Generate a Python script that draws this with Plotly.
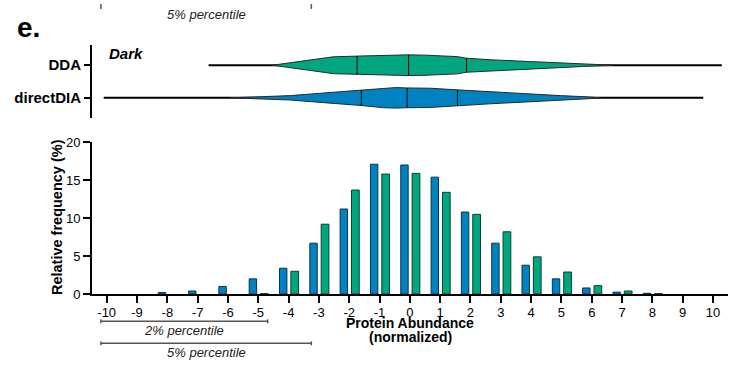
import numpy as np
import plotly.graph_objects as go

# ---- data -------------------------------------------------------------
abundance = list(range(-10, 11))
# relative frequency (%) per normalized abundance bin
freq_directdia = [0, 0, 0.2, 0.4, 1.0, 2.0, 3.4, 6.7, 11.2, 17.1, 17.0,
                  15.4, 10.8, 6.7, 3.8, 2.0, 0.8, 0.25, 0.1, 0, 0]
freq_dda = [0, 0, 0, 0, 0, 0.05, 3.0, 9.2, 13.7, 15.8, 15.9,
            13.4, 10.5, 8.2, 4.9, 2.9, 1.1, 0.4, 0.05, 0, 0]

# violin profiles (position, density)
dda_pos = [-4.54, -3.5, -2.52, -1.74, -1.0, -0.04, 0.5, 1.0, 1.56, 1.87,
           2.66, 3.98, 5.0, 5.73, 6.72]
dda_density = [0, 4.5, 8.8, 9.5, 10.2, 10.8, 10.5, 10.0, 9.0, 7.3,
               5.7, 3.8, 2.3, 1.3, 0]
dia_pos = [-5.92, -3.94, -2.85, -1.6, -0.87, -0.47, -0.09, 0.68, 1.57,
           2.66, 3.75, 4.97, 5.86, 6.3]
dia_density = [0, 2.3, 5.0, 8.0, 10.3, 10.7, 10.3, 10.0, 8.3,
               6.2, 4.3, 2.3, 1.0, 0]
# min, q1, median, q3, max
dda_stats = [-6.64, -1.74, -0.04, 1.87, 10.29]
dia_stats = [-10.1, -1.6, -0.09, 1.57, 9.68]

groups = ["directDIA", "DDA"]

# percentile brackets under the x axis
pct_labels = ["2% percentile", "5% percentile"]
pct_lo = [-10.19, -10.19]
pct_hi = [-4.69, -3.25]

# ---- styling ----------------------------------------------------------
BLUE = "#0082c0"
GREEN = "#00a67e"
BLUE_EDGE = "#0b3550"
GREEN_EDGE = "#0a3f31"
FONT = "Liberation Sans, Arial, sans-serif"
W, H = 729, 366


def px(x):
    return x / W


def py(y):
    return 1 - y / H


x_range = [-10.485, 10.495]
x_domain = [px(92), px(728)]

fig = go.Figure()


def edge_widths(values):
    # no outline on empty bins so they leave no stub on the axis
    return [1 if v > 0 else 0 for v in values]


# histogram bars
fig.add_trace(go.Bar(
    x=abundance, y=freq_directdia, offset=-0.3, width=0.245,
    marker=dict(color=BLUE,
                line=dict(color=BLUE_EDGE, width=edge_widths(freq_directdia))),
    xaxis="x", yaxis="y", showlegend=False))
fig.add_trace(go.Bar(
    x=abundance, y=freq_dda, offset=0.075, width=0.255,
    marker=dict(color=GREEN,
                line=dict(color=GREEN_EDGE, width=edge_widths(freq_dda))),
    xaxis="x", yaxis="y", showlegend=False))

# violins
MAX_HALF = 0.318
dmax = max(max(dda_density), max(dia_density))
violins = [
    (1, dda_pos, dda_density, dda_stats, GREEN),
    (0, dia_pos, dia_density, dia_stats, BLUE),
]
for yc, pos, dens, stats, col in violins:
    pos = np.array(pos, dtype=float)
    hw = np.array(dens, dtype=float) / dmax * MAX_HALF
    # whisker line from min to max
    fig.add_trace(go.Scatter(
        x=[stats[0], stats[4]], y=[yc, yc], mode="lines",
        line=dict(color="black", width=2),
        xaxis="x2", yaxis="y2", showlegend=False, hoverinfo="skip"))
    # body
    fig.add_trace(go.Scatter(
        x=np.concatenate([pos, pos[::-1]]),
        y=np.concatenate([yc + hw, (yc - hw)[::-1]]),
        mode="lines", fill="toself", fillcolor=col,
        line=dict(color="#2a2a2a", width=1),
        xaxis="x2", yaxis="y2", showlegend=False, hoverinfo="skip"))
    # quartile and median lines
    for q in stats[1:4]:
        h = float(np.interp(q, pos, hw))
        fig.add_trace(go.Scatter(
            x=[q, q], y=[yc - h, yc + h], mode="lines",
            line=dict(color="black", width=1),
            xaxis="x2", yaxis="y2", showlegend=False, hoverinfo="skip"))

shapes = []
annotations = []

# percentile brackets
bracket_y = [327.7, 350.7]
label_y = [337, 360]
for lab, lo, hi, by, ly in zip(pct_labels, pct_lo, pct_hi, bracket_y, label_y):
    shapes.append(dict(type="line", xref="x", yref="paper", x0=lo, x1=hi,
                       y0=py(by), y1=py(by), line=dict(color="#555", width=1.5)))
    for xe in (lo, hi):
        shapes.append(dict(type="line", xref="x", yref="paper", x0=xe, x1=xe,
                           y0=py(by - 2), y1=py(by + 2),
                           line=dict(color="#555", width=1.5)))
    annotations.append(dict(text=f"<i>{lab}</i>", xref="x", yref="paper",
                            x=(lo + hi) / 2, y=py(ly), showarrow=False,
                            font=dict(size=13, color="#222", family=FONT),
                            xanchor="center", yanchor="middle"))

# bracket from the panel above, cut at the page top
lo, hi = pct_lo[1], pct_hi[1]
for xe in (lo, hi):
    shapes.append(dict(type="line", xref="x", yref="paper", x0=xe, x1=xe,
                       y0=py(-3), y1=py(2), line=dict(color="#555", width=1.5)))
annotations.append(dict(text=f"<i>{pct_labels[1]}</i>", xref="x", yref="paper",
                        x=(lo + hi) / 2, y=py(7.5), showarrow=False,
                        font=dict(size=13, color="#222", family=FONT),
                        xanchor="center", yanchor="middle"))

# titles and panel labels
annotations += [
    dict(text="<b>Protein Abundance</b>", xref="paper",
         yref="paper", x=px(410), y=py(330), showarrow=False,
         font=dict(size=14, color="black", family=FONT),
         xanchor="center", yanchor="middle"),
    dict(text="<b>(normalized)</b>", xref="paper",
         yref="paper", x=px(410), y=py(344.5), showarrow=False,
         font=dict(size=14, color="black", family=FONT),
         xanchor="center", yanchor="middle"),
    dict(text="<b>Relative frequency (%)</b>", xref="paper", yref="paper",
         x=px(57), y=py(219), textangle=-90, showarrow=False,
         font=dict(size=14.5, color="black", family=FONT),
         xanchor="center", yanchor="middle"),
    dict(text="<b>e.</b>", xref="paper", yref="paper", x=px(28), y=py(21),
         showarrow=False, font=dict(size=28, color="black", family=FONT),
         xanchor="center", yanchor="middle"),
    dict(text="<b><i>Dark</i></b>", xref="paper", yref="paper", x=px(107),
         y=py(48), showarrow=False,
         font=dict(size=15, color="black", family=FONT),
         xanchor="left", yanchor="middle"),
]

fig.update_layout(
    width=W, height=H,
    margin=dict(l=0, r=0, t=0, b=0),
    paper_bgcolor="white", plot_bgcolor="white",
    barmode="overlay",
    font=dict(family=FONT, color="black"),
    shapes=shapes, annotations=annotations,
    xaxis=dict(domain=x_domain, range=x_range, anchor="y",
               tickvals=abundance, ticktext=[str(v) for v in abundance],
               ticks="outside", ticklen=7, tickwidth=2, tickcolor="black",
               ticklabelstandoff=-2,
               showline=True, linewidth=2, linecolor="black",
               showgrid=False, zeroline=False,
               tickfont=dict(size=13, family=FONT, color="black")),
    yaxis=dict(domain=[py(299.3), py(141)], range=[0, 20], anchor="x",
               tickvals=[0, 5, 10, 15, 20],
               ticks="outside", ticklen=7, tickwidth=2, tickcolor="black",
               showline=True, linewidth=2, linecolor="black",
               showgrid=False, zeroline=False,
               tickfont=dict(size=13, family=FONT, color="black")),
    xaxis2=dict(domain=x_domain, range=x_range, anchor="y2", visible=False),
    yaxis2=dict(domain=[py(116), py(40)], range=[-0.626, 1.609], anchor="x2",
                tickvals=[0, 1], ticktext=["<b>%s</b>" % g for g in groups],
                ticks="outside", ticklen=6, tickwidth=2, tickcolor="black",
                showline=True, linewidth=2, linecolor="black",
                showgrid=False, zeroline=False,
                tickfont=dict(size=15, family=FONT, color="black")),
)

fig.write_html("out.html")
